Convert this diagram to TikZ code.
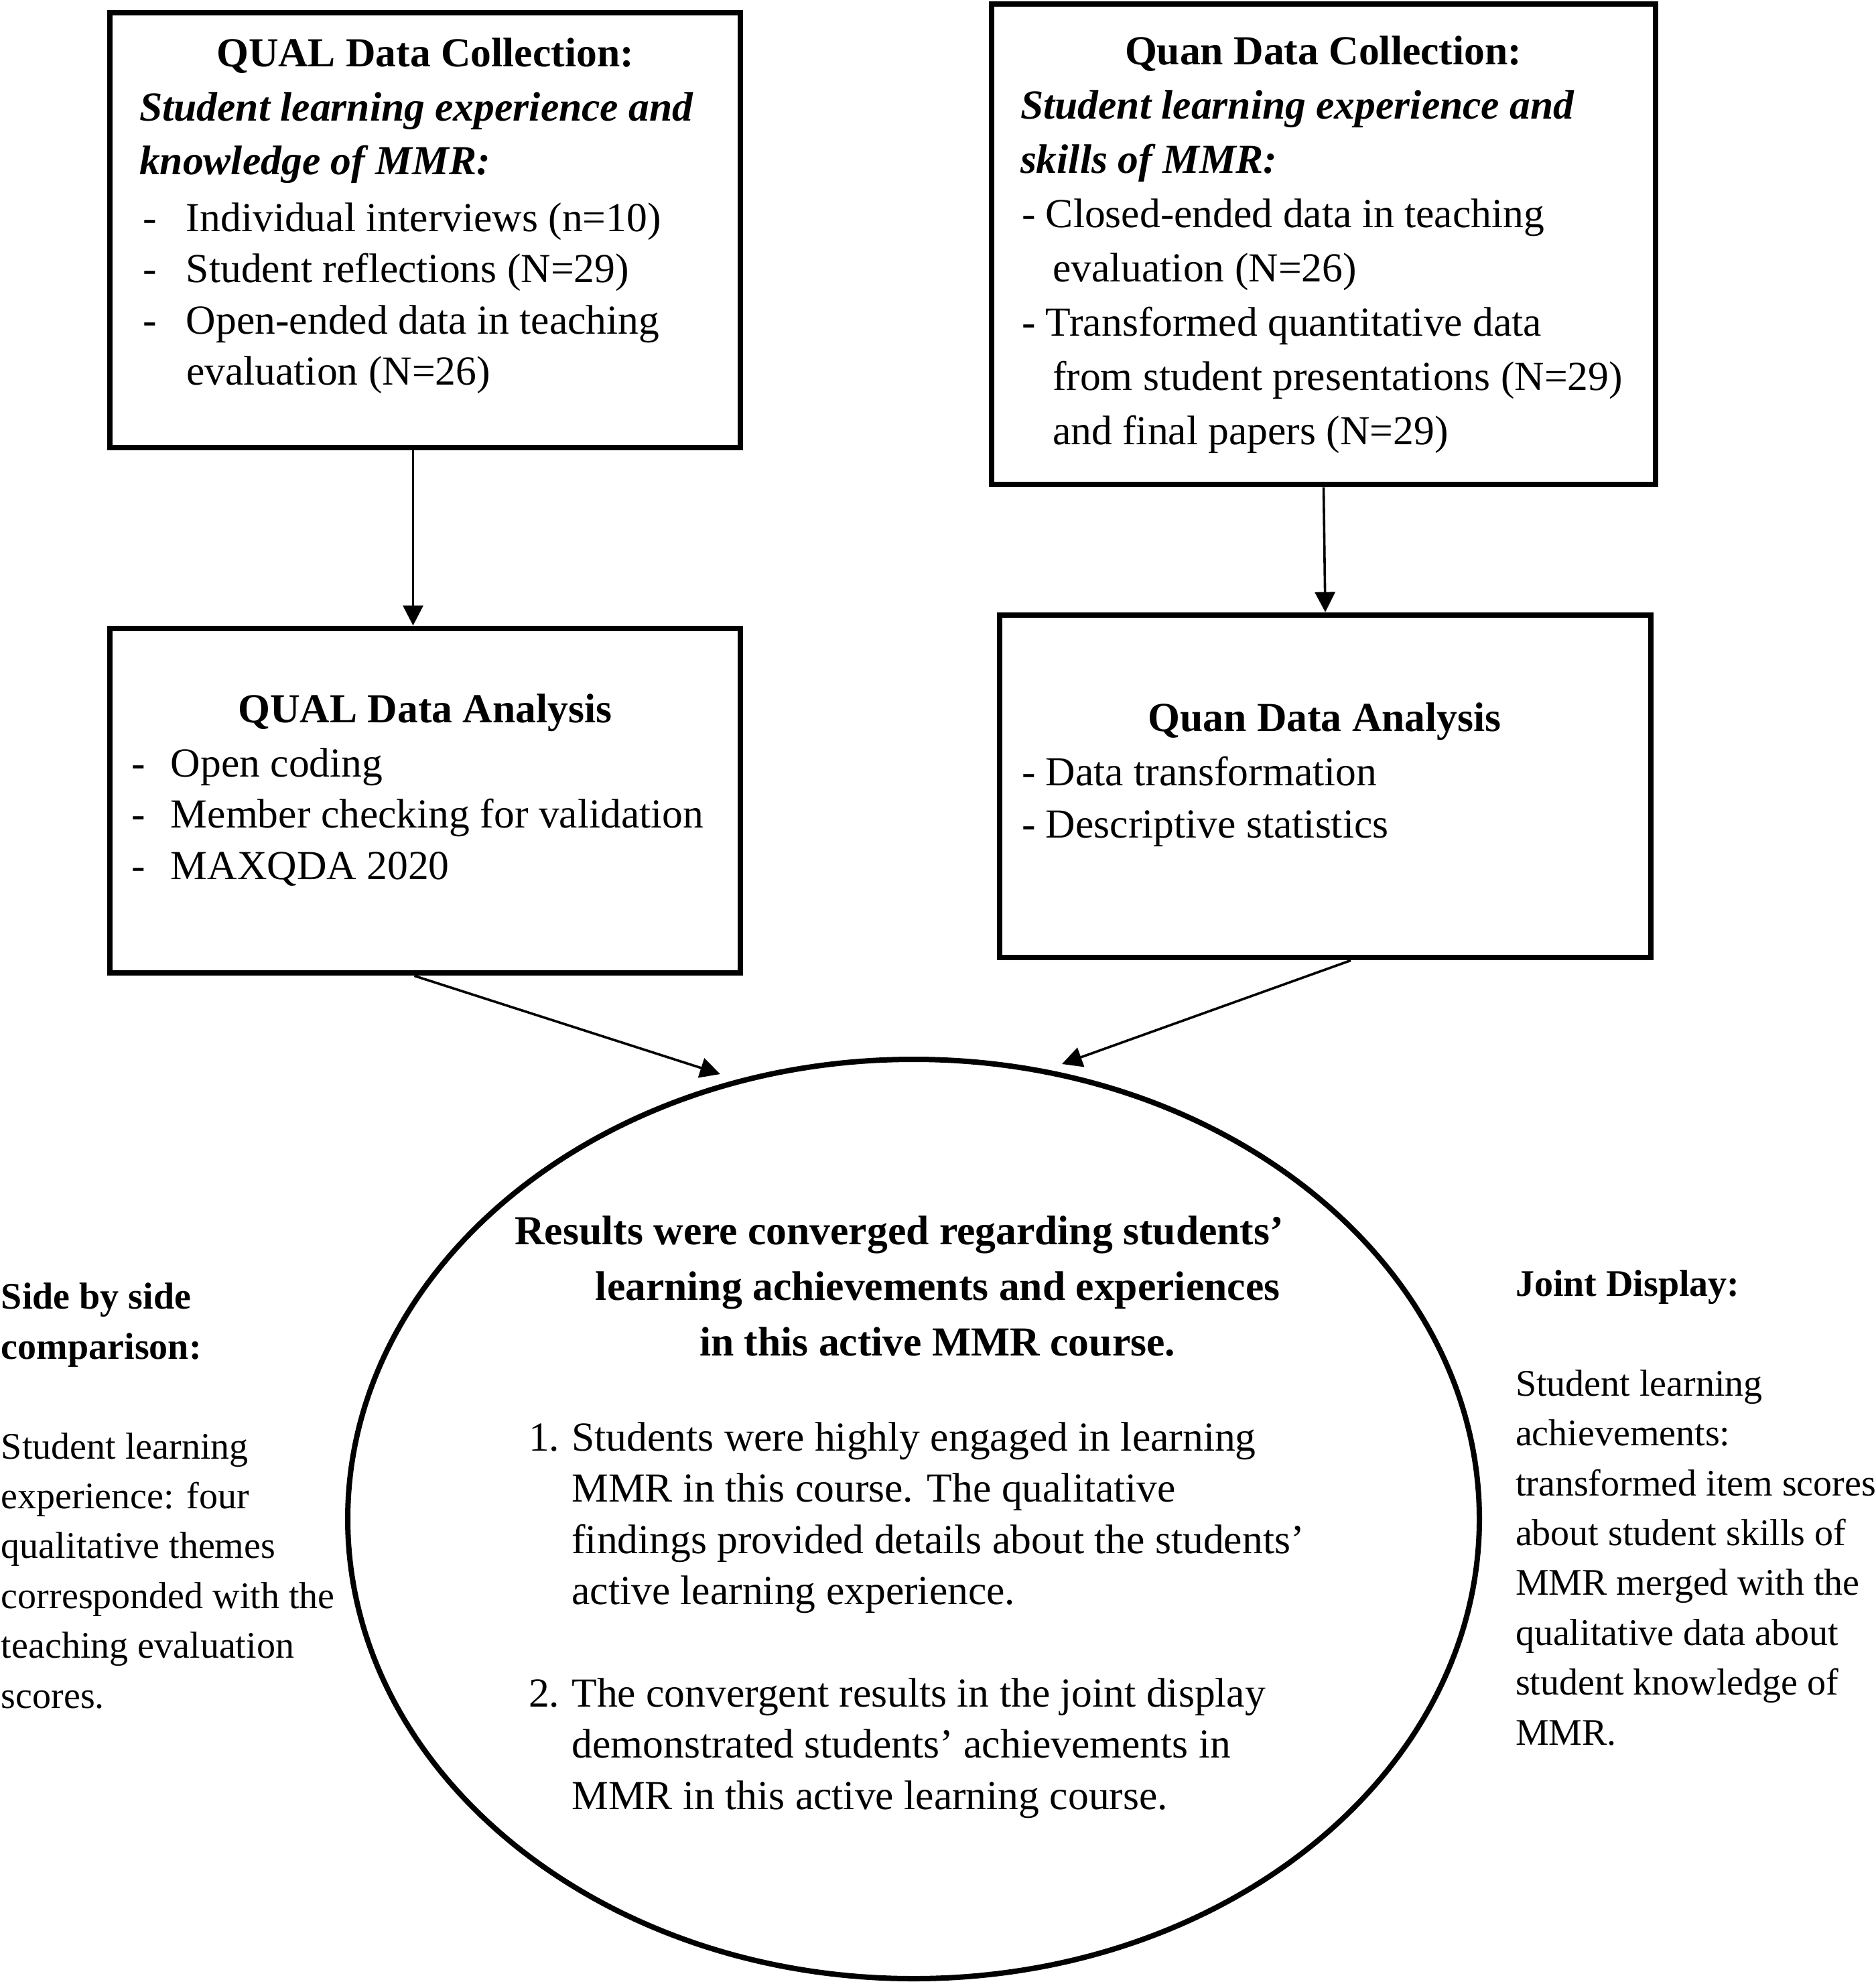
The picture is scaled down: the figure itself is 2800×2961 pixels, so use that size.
\documentclass[tikz,border=0pt]{standalone}
\usepackage{fontspec}
\setmainfont{Liberation Serif}
\usetikzlibrary{arrows.meta,shapes.geometric,calc}
\newcommand\fsz[2]{\fontsize{#1}{#2}\selectfont}
\begin{document}
\begin{tikzpicture}[x=0.25pt,y=-0.25pt,
  box/.style={draw, line width=2.2pt, rectangle, inner sep=0pt},
  arr/.style={line width=0.9pt, -{Triangle[width=7.5pt,length=7.5pt]}},
  tx/.style={inner sep=0pt, outer sep=0pt, align=left}]
\useasboundingbox (0,0) rectangle (2800,2961);

% boxes
\node[box, minimum width=235.25pt, minimum height=162.25pt] (qc) at (634.5,343.5) {};
\node[box, minimum width=247.75pt, minimum height=179.25pt] (nc) at (1975.5,364.5) {};
\node[box, minimum width=235.25pt, minimum height=128.5pt] (qa) at (634.5,1195) {};
\node[box, minimum width=243pt, minimum height=127.75pt] (na) at (1978,1173.5) {};
\node[draw, ellipse, line width=2pt, minimum width=422.25pt, minimum height=343pt, inner sep=0pt] (res) at (1363.5,2267) {};

% connectors
\coordinate (t3) at (1075,1603);
\coordinate (t4) at (1585,1588);
\draw[arr] ($(qc.south)+(-18,0)$) -- ($(qa.north)+(-18,0)$);
\draw[arr] (nc.south) -- (na.north);
\draw[arr] ($(qa.south)+(-16,0)$) -- (t3);
\draw[arr] ($(na.south)+(38,0)$) -- (t4);

% box 1 text (multi-line nodes: base anchor = last line)
\node[tx, anchor=base, font=\fsz{15.4}{20.1}\bfseries] (qct) at (634.5,100) {QUAL Data Collection:};
\node[tx, anchor=base west, font=\fsz{15.4}{20.1}\bfseries\itshape] (qci) at (208,261) {Student learning experience and\\knowledge of MMR:};
\node[tx, anchor=base west, font=\fsz{15.4}{19.1}] (qcl) at (213,574.5) {\makebox[16.25pt][l]{-}Individual interviews (n=10)\\\makebox[16.25pt][l]{-}Student reflections (N=29)\\\makebox[16.25pt][l]{-}Open-ended data in teaching\\\hspace*{16.25pt}evaluation (N=26)};

% box 2 text
\node[tx, anchor=base, font=\fsz{15.4}{20.25}\bfseries] (nct) at (1975,97) {Quan Data Collection:};
\node[tx, anchor=base west, font=\fsz{15.4}{20.25}\bfseries\itshape] (nci) at (1523,259) {Student learning experience and\\skills of MMR:};
\node[tx, anchor=base west, font=\fsz{15.4}{20.25}] (ncl) at (1525,664) {- Closed-ended data in teaching\\\hspace*{11.5pt}evaluation (N=26)\\- Transformed quantitative data\\\hspace*{11.5pt}from student presentations (N=29)\\\hspace*{11.5pt}and final papers (N=29)};

% box 3 text
\node[tx, anchor=base, font=\fsz{15.4}{19.1}\bfseries] (qat) at (634.5,1078) {QUAL Data Analysis};
\node[tx, anchor=base west, font=\fsz{15.4}{19.1}] (qal) at (196,1312) {\makebox[14.75pt][l]{-}Open coding\\\makebox[14.75pt][l]{-}Member checking for validation\\\makebox[14.75pt][l]{-}MAXQDA 2020};

% box 4 text
\node[tx, anchor=base, font=\fsz{15.4}{19.5}\bfseries] (nat) at (1977,1091) {Quan Data Analysis};
\node[tx, anchor=base west, font=\fsz{15.4}{19.5}] (nal) at (1525,1250) {- Data transformation\\- Descriptive statistics};

% ellipse text
\node[tx, anchor=base west, font=\fsz{15.4}{20.75}\bfseries] (rest) at (768.5,2023) {Results were converged regarding students’\\\hspace*{30.1pt}learning achievements and experiences\\\hspace*{68.9pt}in this active MMR course.};
\node[tx, anchor=base west, font=\fsz{15.4}{19.1}] (resl) at (789,2700) {\makebox[16.1pt][l]{1.}Students were highly engaged in learning\\\hspace*{16.1pt}MMR in this course. The qualitative\\\hspace*{16.1pt}findings provided details about the students’\\\hspace*{16.1pt}active learning experience.\\[19.1pt]\makebox[16.1pt][l]{2.}The convergent results in the joint display\\\hspace*{16.1pt}demonstrated students’ achievements in\\\hspace*{16.1pt}MMR in this active learning course.};

% side texts
\node[tx, anchor=base west, font=\fsz{14}{18.6}] (side) at (2,2549) {\textbf{Side by side}\\\textbf{comparison:}\\[18.6pt]Student learning\\experience: four\\qualitative themes\\corresponded with the\\teaching evaluation\\scores.};
\node[tx, anchor=base west, font=\fsz{14}{18.6}] (joint) at (2262,2604) {\textbf{Joint Display:}\\[18.6pt]Student learning\\achievements:\\transformed item scores\\about student skills of\\MMR merged with the\\qualitative data about\\student knowledge of\\MMR.};
\end{tikzpicture}
\end{document}
